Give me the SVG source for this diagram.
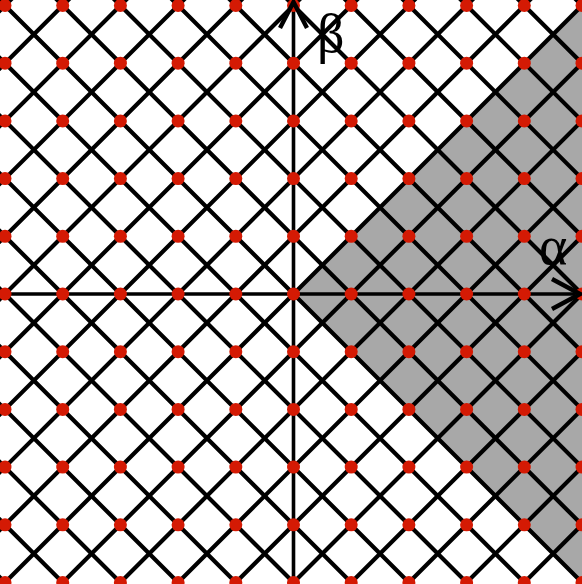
<svg xmlns="http://www.w3.org/2000/svg" xmlns:xlink="http://www.w3.org/1999/xlink" width="582" height="584" viewBox="0 0 582 584">
<style>
.lat{fill:none;stroke:#000;stroke-width:4.2}
.ax{fill:none;stroke:#000;stroke-width:3.6}
.head{fill:none;stroke:#000;stroke-width:4.4;stroke-linejoin:miter}
.dot{fill:#d41a04}
.lbl{font-family:"Liberation Serif","Times New Roman",serif;font-size:54px;fill:#000}
</style>
<defs>
<g id="row">
<circle class="dot" cx="5" cy="0" r="6.5"/><circle class="dot" cx="62.7" cy="0" r="6.5"/><circle class="dot" cx="120.4" cy="0" r="6.5"/><circle class="dot" cx="178.1" cy="0" r="6.5"/><circle class="dot" cx="235.8" cy="0" r="6.5"/><circle class="dot" cx="293.5" cy="0" r="6.5"/><circle class="dot" cx="351.2" cy="0" r="6.5"/><circle class="dot" cx="408.9" cy="0" r="6.5"/><circle class="dot" cx="466.6" cy="0" r="6.5"/><circle class="dot" cx="524.3" cy="0" r="6.5"/><circle class="dot" cx="582" cy="0" r="6.5"/>
</g>
</defs>
<rect width="582" height="584" fill="#fff"/>
<g id="region">
<polygon points="293.5,294 587.5,0 600,0 600,584 583.5,584" fill="#a8a8a8"/>
</g>
<g id="connectors">
<g id="lattice" transform="translate(293.5,294) rotate(45)">
<path class="lat" d="M-600 -448.8H600M-600 -408H600M-600 -367.2H600M-600 -326.4H600M-600 -285.6H600M-600 -244.8H600M-600 -204H600M-600 -163.2H600M-600 -122.4H600M-600 -81.6H600M-600 -40.8H600M-600 0H600M-600 40.8H600M-600 81.6H600M-600 122.4H600M-600 163.2H600M-600 204H600M-600 244.8H600M-600 285.6H600M-600 326.4H600M-600 367.2H600M-600 408H600M-600 448.8H600"/>
<path class="lat" d="M-448.8 -600V600M-408 -600V600M-367.2 -600V600M-326.4 -600V600M-285.6 -600V600M-244.8 -600V600M-204 -600V600M-163.2 -600V600M-122.4 -600V600M-81.6 -600V600M-40.8 -600V600M0 -600V600M40.8 -600V600M81.6 -600V600M122.4 -600V600M163.2 -600V600M204 -600V600M244.8 -600V600M285.6 -600V600M326.4 -600V600M367.2 -600V600M408 -600V600M448.8 -600V600"/>
</g>
<path id="axis-alpha" class="ax" d="M0 294H578"/>
<path id="axis-beta" class="ax" d="M293.5 584V3"/>
</g>
<g id="points">
<use xlink:href="#row" y="5.5"/>
<use xlink:href="#row" y="63.2"/>
<use xlink:href="#row" y="120.9"/>
<use xlink:href="#row" y="178.6"/>
<use xlink:href="#row" y="236.3"/>
<use xlink:href="#row" y="294"/>
<use xlink:href="#row" y="351.7"/>
<use xlink:href="#row" y="409.4"/>
<use xlink:href="#row" y="467.1"/>
<use xlink:href="#row" y="524.8"/>
<use xlink:href="#row" y="582.5"/>
</g>
<g id="arrowheads">
<polyline class="head" points="552,279 580,294 552,309"/>
<polyline class="head" points="280,28 293.5,2 307,28"/>
</g>
<g id="label-alpha"><text class="lbl" x="539" y="264">α</text></g>
<g id="label-beta"><text class="lbl" x="317" y="52">β</text></g>
</svg>
